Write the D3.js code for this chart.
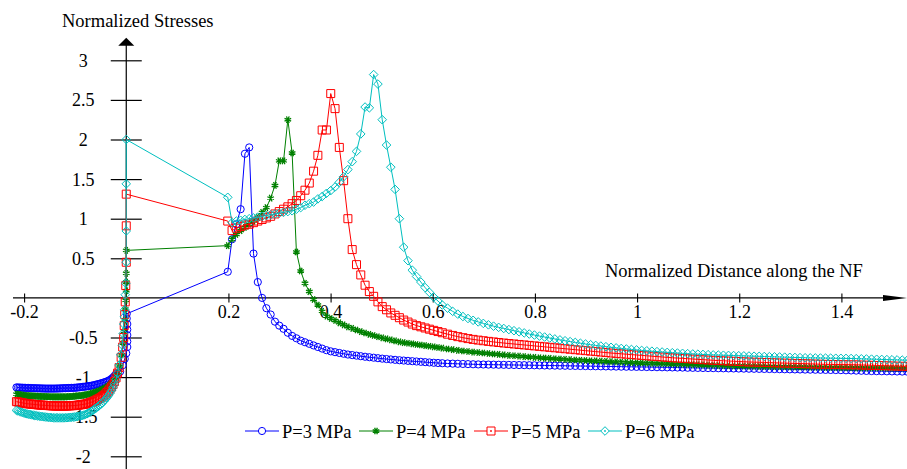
<!DOCTYPE html>
<html><head><meta charset="utf-8">
<script src="https://cdn.jsdelivr.net/npm/d3@7/dist/d3.min.js"></script>
</head>
<body style="margin:0;padding:0;background:#fff">
<svg id="chart" width="907" height="469" font-family="Liberation Serif" style="display:block"></svg>
<script>
// ---------------- DATA ----------------
const xTicks = [-0.2, 0.2, 0.4, 0.6, 0.8, 1, 1.2, 1.4];
const yTicks = [-2, -1.5, -1, -0.5, 0.5, 1, 1.5, 2, 2.5, 3];
const xTitle = "Normalized Distance along the NF";
const yTitle = "Normalized Stresses";
const seriesNames = ["P=3 MPa", "P=4 MPa", "P=5 MPa", "P=6 MPa"];

const leftX = [-0.215,-0.212,-0.209,-0.206,-0.203,-0.2,-0.197,-0.194,-0.191,-0.188,
-0.185,-0.182,-0.179,-0.176,-0.173,-0.17,-0.167,-0.164,-0.161,-0.158,
-0.155,-0.152,-0.149,-0.146,-0.143,-0.14,-0.137,-0.134,-0.131,-0.128,
-0.125,-0.122,-0.119,-0.116,-0.113,-0.11,-0.107,-0.104,-0.101,-0.098,
-0.095,-0.092,-0.089,-0.086,-0.083,-0.08,-0.077,-0.074,-0.071,-0.068,
-0.065,-0.062,-0.059,-0.056,-0.053,-0.05,-0.047,-0.044,-0.041,-0.038,
-0.035,-0.032,-0.029,-0.026,-0.023,-0.02];
const leftY_P3 = [-1.130,-1.131,-1.132,-1.133,-1.134,-1.135,-1.136,-1.137,-1.137,-1.138,
-1.139,-1.140,-1.140,-1.141,-1.142,-1.142,-1.143,-1.144,-1.144,-1.145,
-1.145,-1.145,-1.145,-1.145,-1.145,-1.145,-1.144,-1.144,-1.143,-1.142,
-1.141,-1.140,-1.140,-1.139,-1.138,-1.137,-1.136,-1.136,-1.135,-1.133,
-1.131,-1.129,-1.127,-1.124,-1.122,-1.120,-1.117,-1.114,-1.111,-1.108,
-1.105,-1.100,-1.095,-1.090,-1.085,-1.080,-1.074,-1.068,-1.062,-1.055,
-1.046,-1.036,-1.022,-1.005,-0.985,-0.960];
const leftY_P4 = [-1.215,-1.218,-1.221,-1.224,-1.227,-1.230,-1.232,-1.234,-1.235,-1.237,
-1.238,-1.239,-1.240,-1.241,-1.242,-1.243,-1.244,-1.245,-1.245,-1.246,
-1.247,-1.248,-1.248,-1.249,-1.249,-1.250,-1.250,-1.250,-1.250,-1.250,
-1.250,-1.250,-1.249,-1.248,-1.247,-1.246,-1.245,-1.243,-1.241,-1.239,
-1.237,-1.235,-1.233,-1.230,-1.228,-1.225,-1.221,-1.217,-1.212,-1.206,
-1.200,-1.193,-1.186,-1.179,-1.172,-1.165,-1.155,-1.145,-1.134,-1.122,
-1.108,-1.093,-1.075,-1.052,-1.022,-0.980];
const leftY_P5 = [-1.310,-1.314,-1.318,-1.322,-1.326,-1.330,-1.333,-1.336,-1.338,-1.340,
-1.342,-1.344,-1.346,-1.348,-1.350,-1.352,-1.353,-1.355,-1.356,-1.358,
-1.359,-1.360,-1.361,-1.362,-1.363,-1.364,-1.365,-1.365,-1.365,-1.365,
-1.365,-1.365,-1.365,-1.364,-1.363,-1.362,-1.361,-1.360,-1.359,-1.357,
-1.355,-1.352,-1.349,-1.346,-1.343,-1.340,-1.335,-1.329,-1.322,-1.316,
-1.310,-1.300,-1.290,-1.280,-1.270,-1.260,-1.245,-1.230,-1.215,-1.195,
-1.175,-1.150,-1.125,-1.095,-1.055,-1.010];
const leftY_P6 = [-1.420,-1.427,-1.434,-1.441,-1.448,-1.455,-1.460,-1.465,-1.469,-1.473,
-1.477,-1.481,-1.485,-1.488,-1.491,-1.494,-1.497,-1.500,-1.502,-1.504,
-1.506,-1.508,-1.510,-1.512,-1.514,-1.515,-1.515,-1.515,-1.515,-1.515,
-1.515,-1.515,-1.514,-1.513,-1.511,-1.509,-1.507,-1.505,-1.503,-1.500,
-1.496,-1.492,-1.488,-1.484,-1.479,-1.472,-1.463,-1.453,-1.443,-1.430,
-1.417,-1.403,-1.389,-1.375,-1.361,-1.345,-1.325,-1.305,-1.283,-1.260,
-1.235,-1.205,-1.170,-1.130,-1.085,-1.030];

const colX_P3 = [-0.016,-0.012,-0.007,-0.003,0,0.002,0.002,0.002,0.002,0.002,0.001,0.001];
const colY_P3 = [-0.95,-0.93,-0.85,-0.77,-0.7,-0.62,-0.55,-0.47,-0.4,-0.33,-0.26,-0.2];
const colX_P4 = [-0.016,-0.013,-0.009,-0.006,-0.004,-0.003,-0.002,-0.001,0,0,0,0];
const colY_P4 = [-0.94,-0.86,-0.72,-0.57,-0.42,-0.28,-0.14,-0.03,0.09,0.2,0.31,0.6];
const colX_P5 = [-0.017,-0.014,-0.01,-0.007,-0.005,-0.004,-0.003,-0.002,-0.001,0,0,0];
const colY_P5 = [-0.95,-0.88,-0.75,-0.62,-0.5,-0.35,-0.21,-0.05,0.155,0.45,0.91,1.31];
const colX_P6 = [-0.017,-0.014,-0.011,-0.0075,-0.006,-0.005,-0.004,-0.003,-0.002,-0.001,0,0,0,0];
const colY_P6 = [-0.95,-0.85,-0.72,-0.6,-0.45,-0.33,-0.24,-0.15,0.04,0.185,0.45,0.845,1.44,2.0];

const rightX = [0.1987,0.2071,0.2155,0.2239,0.2323,0.2407,0.2491,0.2575,0.2659,0.2743,
0.2827,0.2911,0.2995,0.3079,0.3163,0.3247,0.3331,0.3415,0.3499,0.3583,
0.3667,0.3751,0.3835,0.3919,0.4003,0.4087,0.4171,0.4255,0.4339,0.4423,
0.4507,0.4591,0.4675,0.4759,0.4843,0.4927,0.5011,0.5095,0.5179,0.5263,
0.5347,0.5431,0.5515,0.5599,0.5683,0.5767,0.5851,0.5935,0.6019,0.6103,
0.6187,
0.629,0.639,0.649,0.659,0.669,0.679,0.689,0.699,0.709,0.719,
0.729,0.739,0.749,0.759,0.769,0.779,0.789,0.799,0.809,0.819,
0.829,0.839,0.849,0.859,0.869,0.879,0.889,0.899,0.909,0.919,
0.929,0.939,0.949,0.959,0.969,0.979,0.989,0.999,1.009,1.019,
1.029,1.039,1.049,1.059,1.069,1.079,1.089,1.099,1.109,1.119,
1.129,1.139,1.149,1.159,1.169,1.179,1.189,1.199,1.209,1.219,
1.229,1.239,1.249,1.259,1.269,1.279,1.289,1.299,1.309,1.319,
1.329,1.339,1.349,1.359,1.369,1.379,1.389,1.399,1.409,1.419,
1.429,1.439,1.449,1.459,1.469,1.479,1.489,1.499,1.509,1.519,
1.529,1.539];

const rightY_P3 = [0.33,0.74,0.93,1.12,1.82,1.90,0.56,0.20,0.00,-0.13,
-0.21,-0.30,-0.35,-0.39,-0.44,-0.48,-0.51,-0.54,-0.56,-0.58,
-0.60,-0.62,-0.64,-0.66,-0.675,-0.685,-0.695,-0.705,-0.715,-0.722,
-0.729,-0.736,-0.743,-0.749,-0.755,-0.761,-0.767,-0.772,-0.777,-0.782,
-0.787,-0.791,-0.795,-0.799,-0.803,-0.807,-0.811,-0.815,-0.819,-0.822,
-0.825,
-0.828,-0.830,-0.832,-0.834,-0.836,-0.838,-0.840,-0.841,-0.842,-0.843,
-0.844,-0.845,-0.846,-0.847,-0.848,-0.849,-0.850,-0.851,-0.852,-0.853,
-0.854,-0.855,-0.856,-0.857,-0.858,-0.859,-0.860,-0.861,-0.862,-0.863,
-0.864,-0.865,-0.866,-0.867,-0.868,-0.869,-0.870,-0.871,-0.872,-0.873,
-0.874,-0.875,-0.876,-0.877,-0.878,-0.879,-0.880,-0.882,-0.883,-0.884,
-0.885,-0.886,-0.887,-0.888,-0.889,-0.890,-0.891,-0.892,-0.893,-0.894,
-0.895,-0.896,-0.897,-0.898,-0.899,-0.900,-0.901,-0.902,-0.903,-0.904,
-0.905,-0.906,-0.907,-0.908,-0.909,-0.910,-0.911,-0.912,-0.914,-0.916,
-0.918,-0.920,-0.922,-0.924,-0.925,-0.926,-0.927,-0.928,-0.929,-0.930,
-0.931,-0.932];

const rightY_P4 = [0.66,0.74,0.80,0.85,0.89,0.93,0.97,1.02,1.08,1.14,
1.26,1.42,1.73,1.73,2.25,1.83,0.58,0.34,0.185,0.08,
-0.02,-0.09,-0.17,-0.23,-0.26,-0.285,-0.315,-0.34,-0.365,-0.385,
-0.405,-0.425,-0.443,-0.46,-0.475,-0.49,-0.505,-0.518,-0.53,-0.543,
-0.555,-0.565,-0.573,-0.58,-0.588,-0.595,-0.603,-0.61,-0.618,-0.626,
-0.634,
-0.645,-0.654,-0.662,-0.670,-0.677,-0.684,-0.690,-0.696,-0.702,-0.708,
-0.714,-0.720,-0.726,-0.731,-0.736,-0.741,-0.746,-0.751,-0.756,-0.760,
-0.764,-0.768,-0.772,-0.776,-0.780,-0.784,-0.787,-0.790,-0.793,-0.796,
-0.799,-0.802,-0.805,-0.808,-0.811,-0.814,-0.817,-0.820,-0.822,-0.824,
-0.826,-0.828,-0.830,-0.832,-0.834,-0.836,-0.838,-0.840,-0.842,-0.844,
-0.846,-0.848,-0.850,-0.852,-0.854,-0.856,-0.858,-0.859,-0.860,-0.862,
-0.863,-0.864,-0.865,-0.866,-0.867,-0.868,-0.869,-0.870,-0.871,-0.872,
-0.873,-0.874,-0.875,-0.876,-0.877,-0.878,-0.879,-0.880,-0.881,-0.882,
-0.883,-0.883,-0.884,-0.884,-0.885,-0.885,-0.886,-0.886,-0.887,-0.887,
-0.888,-0.888];

const rightY_P5 = [0.97,0.85,0.88,0.90,0.92,0.93,0.95,0.97,0.99,1.01,
1.03,1.06,1.09,1.12,1.15,1.19,1.23,1.29,1.36,1.45,
1.60,1.80,2.12,2.12,2.58,2.39,1.90,1.48,1.00,0.61,
0.42,0.29,0.16,0.08,0.02,-0.05,-0.11,-0.15,-0.19,-0.22,
-0.25,-0.28,-0.305,-0.33,-0.35,-0.365,-0.38,-0.395,-0.41,-0.425,
-0.44,
-0.458,-0.474,-0.489,-0.502,-0.514,-0.524,-0.533,-0.541,-0.549,-0.556,
-0.563,-0.570,-0.576,-0.582,-0.588,-0.594,-0.600,-0.606,-0.612,-0.618,
-0.624,-0.630,-0.636,-0.642,-0.648,-0.654,-0.660,-0.666,-0.672,-0.678,
-0.684,-0.690,-0.696,-0.701,-0.706,-0.711,-0.716,-0.721,-0.726,-0.731,
-0.736,-0.741,-0.746,-0.751,-0.756,-0.760,-0.764,-0.768,-0.772,-0.776,
-0.780,-0.784,-0.788,-0.791,-0.794,-0.797,-0.800,-0.803,-0.806,-0.809,
-0.811,-0.813,-0.815,-0.817,-0.819,-0.821,-0.823,-0.825,-0.827,-0.829,
-0.831,-0.833,-0.835,-0.837,-0.839,-0.840,-0.841,-0.842,-0.843,-0.844,
-0.845,-0.847,-0.849,-0.851,-0.853,-0.855,-0.857,-0.859,-0.861,-0.863,
-0.864,-0.865];

const rightY_P6 = [1.27,0.95,0.97,0.98,0.99,1.00,1.01,1.02,1.03,1.04,
1.05,1.06,1.07,1.08,1.09,1.10,1.12,1.14,1.17,1.19,
1.21,1.25,1.28,1.32,1.355,1.40,1.46,1.53,1.62,1.72,
1.85,2.07,2.41,2.40,2.82,2.70,2.25,1.93,1.65,1.37,
1.00,0.64,0.47,0.35,0.27,0.20,0.13,0.07,0.01,-0.04,
-0.09,
-0.13,-0.17,-0.205,-0.235,-0.26,-0.283,-0.303,-0.322,-0.34,-0.357,
-0.372,-0.386,-0.40,-0.414,-0.428,-0.442,-0.456,-0.469,-0.482,-0.494,
-0.506,-0.518,-0.53,-0.541,-0.552,-0.562,-0.572,-0.582,-0.591,-0.600,
-0.608,-0.616,-0.624,-0.631,-0.638,-0.645,-0.651,-0.657,-0.663,-0.668,
-0.673,-0.678,-0.683,-0.688,-0.692,-0.696,-0.700,-0.704,-0.708,-0.711,
-0.714,-0.717,-0.720,-0.722,-0.724,-0.726,-0.728,-0.730,-0.732,-0.734,
-0.736,-0.738,-0.740,-0.742,-0.744,-0.746,-0.748,-0.750,-0.752,-0.754,
-0.756,-0.757,-0.758,-0.759,-0.760,-0.761,-0.762,-0.763,-0.764,-0.765,
-0.767,-0.769,-0.771,-0.773,-0.775,-0.777,-0.779,-0.781,-0.783,-0.785,
-0.787,-0.789];

// ---------------- STYLE ----------------
const colors = ["#0000ff", "#008000", "#ff0000", "#00bfbf"];
const shapes = ["circle", "star", "square", "diamond"];
const FONT = "Liberation Serif";

// ---------------- BUILD ----------------
function zipXY(xs, ys){ const n=Math.min(xs.length, ys.length); const o=[]; for(let i=0;i<n;i++) o.push([xs[i], ys[i]]); return o; }
const seriesData = [
  zipXY(leftX,leftY_P3).concat(zipXY(colX_P3,colY_P3), zipXY(rightX,rightY_P3)),
  zipXY(leftX,leftY_P4).concat(zipXY(colX_P4,colY_P4), zipXY(rightX,rightY_P4)),
  zipXY(leftX,leftY_P5).concat(zipXY(colX_P5,colY_P5), zipXY(rightX,rightY_P5)),
  zipXY(leftX,leftY_P6).concat(zipXY(colX_P6,colY_P6), zipXY(rightX,rightY_P6))
];

const svg = d3.select("#chart");
const x = d3.scaleLinear().domain([-0.2, 1.4]).range([24.1, 841.4]);
const y = d3.scaleLinear().domain([0, 3]).range([297.9, 60.3]);
const x0 = x(0), y0 = y(0);

function setFont(sel, size){
  return sel.attr("font-family", FONT).attr("font-size", size).attr("fill", "#000");
}

// axes
const gx = svg.append("g").attr("transform", `translate(0,${y0})`)
  .call(d3.axisBottom(x).tickValues(xTicks).tickSize(4.5).tickFormat(d => String(d)));
gx.attr("font-family", FONT).attr("font-size", 18);
gx.select(".domain").remove();
gx.selectAll(".tick line").attr("y1", -4.5).attr("y2", 4.5).attr("stroke", "#000").attr("stroke-width", 1.1);
setFont(gx.selectAll(".tick text").attr("y", 20.6).attr("dy", null), 18);

const gy = svg.append("g").attr("transform", `translate(${x0},0)`)
  .call(d3.axisLeft(y).tickValues(yTicks).tickSize(15.5).tickFormat(d => String(d)));
gy.attr("font-family", FONT).attr("font-size", 18);
gy.select(".domain").remove();
gy.selectAll(".tick line").attr("x1", -15.5).attr("x2", 15.5).attr("stroke", "#000").attr("stroke-width", 1.2);
setFont(gy.selectAll(".tick text").attr("x", -43).attr("text-anchor", "middle").attr("dy", "0.33em"), 18);

// axis lines with arrows
svg.append("line").attr("x1", 13).attr("x2", 885).attr("y1", y0).attr("y2", y0).attr("stroke", "#000").attr("stroke-width", 1.2);
svg.append("path").attr("d", `M883,${y0-3}L907,${y0}L883,${y0+3}Z`).attr("fill", "#000");
svg.append("line").attr("x1", x0).attr("x2", x0).attr("y1", 44).attr("y2", 469).attr("stroke", "#000").attr("stroke-width", 1.2);
svg.append("path").attr("d", `M${x0-8},45.7L${x0},37.7L${x0+8},45.7Z`).attr("fill", "#000");

// titles
setFont(svg.append("text").attr("x", 62).attr("y", 27), 18.5).text(yTitle);
setFont(svg.append("text").attr("x", 605).attr("y", 276.5), 18.5).text(xTitle);

function markerPath(shape, cx, cy){
  if(shape === "circle"){ const r=3.6; return `M${cx-r},${cy}a${r},${r} 0 1,0 ${2*r},0a${r},${r} 0 1,0 ${-2*r},0`; }
  if(shape === "square"){ const s=4; return `M${cx-s},${cy-s}h${2*s}v${2*s}h${-2*s}Z`; }
  if(shape === "diamond"){ const s=4.3; return `M${cx},${cy-s}L${cx+s},${cy}L${cx},${cy+s}L${cx-s},${cy}Z`; }
  const r=3.6; let d="";
  for(let k=0;k<4;k++){ const a=Math.PI/4*k+Math.PI/8; const dx=r*Math.cos(a), dy=r*Math.sin(a); d+=`M${cx-dx},${cy-dy}L${cx+dx},${cy+dy}`; }
  return d;
}

const line = d3.line().x(d => x(d[0])).y(d => y(d[1]));
const plot = svg.append("g");
seriesData.forEach((data, i) => {
  const g = plot.append("g");
  g.append("path").datum(data).attr("d", line).attr("fill", "none").attr("stroke", colors[i]).attr("stroke-width", 1);
  g.selectAll("path.m").data(data).enter().append("path").attr("class", "m")
    .attr("d", d => markerPath(shapes[i], x(d[0]), y(d[1])))
    .attr("fill", shapes[i] === "star" ? colors[i] : "none")
    .attr("stroke", colors[i]).attr("stroke-width", shapes[i] === "star" ? 1.3 : 1);
});

// legend
const legX = [245, 359, 474, 588];
const legY = 431;
seriesNames.forEach((name, i) => {
  const lx = legX[i], mx = lx + 17;
  const g = svg.append("g");
  g.append("line").attr("x1", lx).attr("x2", lx + 34).attr("y1", legY).attr("y2", legY).attr("stroke", colors[i]).attr("stroke-width", 1);
  g.append("path").attr("d", markerPath(shapes[i], mx, legY))
    .attr("fill", shapes[i] === "star" ? colors[i] : "#fff").attr("stroke", colors[i]).attr("stroke-width", shapes[i] === "star" ? 1.3 : 1);
  if(shapes[i] === "square" || shapes[i] === "diamond") g.append("circle").attr("cx", mx).attr("cy", legY).attr("r", 0.9).attr("fill", colors[i]);
  setFont(g.append("text").attr("x", lx + 37).attr("y", 438.3), 18.5).text(name);
});
</script>
</body></html>
